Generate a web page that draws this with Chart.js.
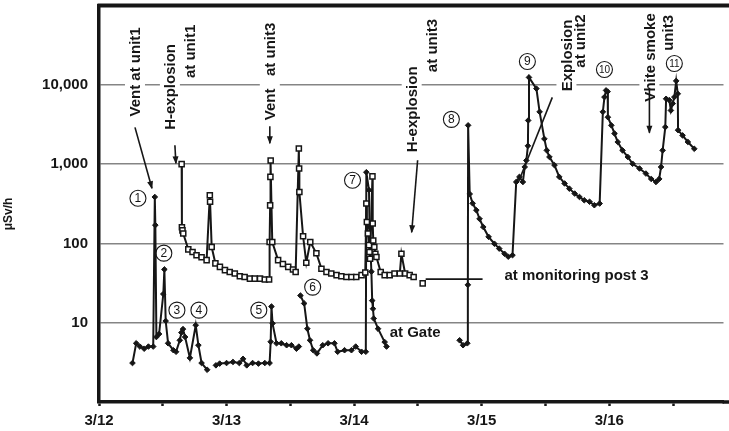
<!DOCTYPE html>
<html>
<head>
<meta charset="utf-8">
<script src="https://cdn.jsdelivr.net/npm/chart.js@4.4.1/dist/chart.umd.min.js"></script>
<style>
  html, body { margin: 0; padding: 0; background: #fff; }
  canvas { display: block; }
</style>
</head>
<body>
<canvas id="c" width="729" height="431"></canvas>
<script>
// Dose rate at the site, hours counted from 3/12 00:00, values in µSv/h.
const dayLabels = ['3/12', '3/13', '3/14', '3/15', '3/16'];
const yTickValues = [10, 100, 1000, 10000];

// Monitoring post 3 (open squares); null marks a break in the record.
const mp3Hours = [
  15.55, 15.6, 15.7, 15.85, 16.8, 17.6, 18.35, 19.3, 20.25, 20.85, 20.9, 21.2,
  21.9, 22.75, 23.7, 24.6, 25.55, 26.5, 27.4, 28.4, 29.3, 30.3, 31.2, 32.0,
  32.1, 32.2, 32.25, 32.3, 32.6, 33.7, 34.6, 35.6, 36.5, 37.0,
  37.6, 37.65, 37.7, 38.4, 39.0, 39.75, 40.9, 41.85, 42.8, 43.7, 44.7, 45.6,
  46.55, 47.5, 48.4, 49.4, 50.1,
  50.3, 50.4, 50.6, 50.8, 50.9, 51.0, 51.45, 51.5, 51.6, 51.8, 52.0, 52.2,
  53.0, 53.75, 54.7, 55.6, 56.6, 56.9, 57.6, 58.45, 59.2,
  60.0, 60.9
];
const mp3Values = [
  1000, 160, 146, 133, 84, 78, 71, 67, 61.5, 405, 335, 90,
  56, 50.6, 46, 43.6, 41.8, 38.6, 37.7, 36, 36, 36, 35, 35,
  104, 302, 690, 1110, 104, 61.5, 55, 50.6, 46.8, 43.6,
  1570, 880, 445, 123, 57, 104, 75, 48, 43.6, 41.8, 39.8, 38.6,
  37.7, 37.7, 37.7, 39.8, 43,
  318, 186, 133, 95, 78, 64, 700, 178, 109, 90, 74, 67.5,
  43.6, 39.8, 39.8, 41.8, 41.8, 74, 41.8, 39.8, 37.7,
  null, 31.3
];

// Main gate (filled diamonds); null marks a break in the record.
const gateHours = [
  6.3, 7.0, 7.7, 8.5, 9.3, 10.2, 10.5, 10.6, 10.8, 11.3, 12.1, 12.3,
  12.55, 13.0, 14.0, 14.5, 15.2, 15.5, 15.8, 16.2, 17.1, 18.2, 18.7, 19.3,
  20.35, 21.2,
  22.0, 22.7, 24.0, 25.2, 26.4, 27.1, 27.8, 28.9, 30.0, 31.2, 32.1,
  32.3, 32.45, 32.65, 33.4, 34.3, 35.3, 36.2, 37.15, 37.6, 37.75,
  37.9, 38.6, 39.2, 39.7, 40.3, 41.0, 42.1, 43.1, 44.3, 44.9, 46.2, 47.5,
  48.3, 49.4, 50.2,
  50.3, 50.8, 50.9, 51.25, 51.4, 51.55, 51.7, 52.5, 53.75, 54.1, 60.0,
  67.85, 68.5, 69.3, 69.4, 69.45, 69.75, 70.3, 71.0, 71.6, 72.3, 73.3, 74.4,
  75.3, 76.3, 77.0, 77.8,
  78.5, 79.1, 79.75, 80.1, 80.4, 80.7, 80.75, 80.9,
  82.3, 82.9, 83.8, 84.25, 84.75, 85.7, 86.6, 87.6, 88.5, 89.5, 90.4, 91.3,
  92.3, 93.2, 94.2,
  94.8, 95.1, 95.4, 95.7,
  95.75, 96.4, 97.0, 97.6, 98.5, 99.5, 100.4, 101.7, 102.9, 103.9, 104.8, 105.4,
  105.75, 106.05, 106.55, 106.7, 107.3, 107.6, 107.95, 108.25, 108.6, 108.9,
  108.95, 109.8, 110.8, 112.0
];
const gateValues = [
  3.1, 5.5, 5.0, 4.7, 5.0, 5.0, 385, 170, 6.6, 7.2, 23, 47,
  10.5, 5.5, 4.5, 4.3, 6.0, 7.5, 8.3, 6.6, 3.6, 9.3, 5.2, 3.1,
  2.55, null,
  2.9, 3.05, 3.1, 3.2, 3.1, 3.5, 2.9, 3.1, 3.05, 3.1, 3.1,
  5.75, 16, 9.8, 5.5, 5.5, 5.2, 5.2, 4.7, 5.0, null,
  22, 17.5, 8.4, 6.0, 4.5, 4.1, 5.2, 5.5, 5.5, 4.3, 4.5, 4.5,
  5.0, 4.3, 4.3,
  790, 470, 161, 44, 19, 15, 11.3, 8.4, 5.7, 5.0, null,
  6.0, 5.2, 5.5, 30, 3080, 420, 320, 262, 204, 161, 121, 99,
  86, 74, 68, 71,
  595, 690, 595, 920, 1110, 1700, 3550, 12400,
  8950, 4560, 2080, 1490, 1230, 970, 690, 570, 490, 425, 385, 350,
  335, 303, 318,
  4560, 7000, 8500, 8200,
  3900, 3080, 2430, 1900, 1490, 1230, 1010, 880, 760, 650, 595, 650,
  920, 1490, 2930, 6660, 6400, 4750, 5800, 7000, 11200, 7700,
  2680, 2300, 1900, 1560
];

// Event notes, placed in data units [hours, µSv/h].
const eventTexts = [
  { text: 'Vent at unit1', at: [6.77, 14530] },
  { text: 'H-explosion', at: [13.34, 9410] },
  { text: 'at unit1', at: [17.1, 26360] },
  { text: 'Vent   at unit3', at: [32.14, 14750] },
  { text: 'H-explosion', at: [58.83, 4900] },
  { text: 'at unit3', at: [62.58, 31340] },
  { text: 'Explosion', at: [87.95, 23450] },
  { text: 'at unit2', at: [90.4, 35700] },
  { text: 'Vhite smoke', at: [103.56, 22130] },
  { text: 'unit3', at: [107.1, 45070] }
];
const eventArrows = [
  { from: [6.77, 2906], to: [9.96, 496], head: true },
  { from: [14.28, 1726], to: [14.47, 1023], head: true },
  { from: [32.14, 2993], to: [32.14, 1828], head: true },
  { from: [59.95, 1117], to: [58.83, 138], head: true },
  { from: [85.29, 6935], to: [78.9, 590], head: false },
  { from: [103.56, 9170], to: [103.56, 2484], head: true },
  { from: [61.46, 35.4], to: [72.17, 35.4], head: false }
];
const circledMarks = [
  ['1', 7.33, 371], ['2', 12.2, 75.3], ['3', 14.66, 14.4], ['4', 18.8, 14.4],
  ['5', 30.07, 14.4], ['6', 40.2, 28.1], ['7', 47.7, 625], ['8', 66.3, 3665],
  ['9', 80.6, 19700], ['10', 95.1, 15600], ['11', 108.25, 18600]
];
const seriesTexts = [
  { text: 'at Gate', at: [54.69, 7.4] },
  { text: 'at monitoring post 3', at: [76.3, 38.6] }
];

const INK = '#161616';
const FONT = '"Liberation Sans", Arial, Helvetica, sans-serif';

const zip = (xs, ys) => xs.map((x, i) => ({ x: x, y: ys[i] }));

// keep the plot box exactly where the frame sits
const noEdgePadding = (s) => {
  s.paddingLeft = 0; s.paddingRight = 0; s.paddingTop = 0; s.paddingBottom = 0;
};

const notesPlugin = {
  id: 'notes',
  beforeDatasetsDraw(chart) {
    const { ctx, scales } = chart;
    const P = (a) => [scales.x.getPixelForValue(a[0]), scales.y.getPixelForValue(a[1])];
    ctx.save();

    // rotated event texts: white patches first, then the words
    ctx.font = 'bold 15px ' + FONT;
    ctx.textAlign = 'center';
    ctx.textBaseline = 'middle';
    const rotated = (fn) => eventTexts.forEach(n => {
      const [px, py] = P(n.at);
      const w = ctx.measureText(n.text).width;
      ctx.save();
      ctx.translate(px, py);
      ctx.rotate(-Math.PI / 2);
      fn(n, w);
      ctx.restore();
    });
    rotated((n, w) => { ctx.fillStyle = '#fff'; ctx.fillRect(-w / 2 - 3, -10, w + 6, 20); });
    rotated((n) => { ctx.fillStyle = INK; ctx.fillText(n.text, 0, 1); });

    // arrows
    ctx.strokeStyle = INK;
    ctx.fillStyle = INK;
    ctx.lineWidth = 1.6;
    eventArrows.forEach(a => {
      const [x1, y1] = P(a.from);
      const [x2, y2] = P(a.to);
      ctx.beginPath();
      ctx.moveTo(x1, y1);
      ctx.lineTo(x2, y2);
      ctx.stroke();
      if (a.head) {
        const ang = Math.atan2(y2 - y1, x2 - x1);
        const L = 7, W = 3;
        ctx.beginPath();
        ctx.moveTo(x2 + Math.cos(ang) * 1, y2 + Math.sin(ang) * 1);
        ctx.lineTo(x2 - Math.cos(ang) * L - Math.sin(ang) * W, y2 - Math.sin(ang) * L + Math.cos(ang) * W);
        ctx.lineTo(x2 - Math.cos(ang) * L + Math.sin(ang) * W, y2 - Math.sin(ang) * L - Math.cos(ang) * W);
        ctx.closePath();
        ctx.fill();
      }
    });

    // circled event numbers
    circledMarks.forEach(c => {
      const [px, py] = P([c[1], c[2]]);
      ctx.beginPath();
      ctx.arc(px, py, 8, 0, Math.PI * 2);
      ctx.fillStyle = '#fff';
      ctx.fill();
      ctx.lineWidth = 1.1;
      ctx.strokeStyle = INK;
      ctx.stroke();
      ctx.fillStyle = INK;
      ctx.font = (c[0].length > 1 ? '10px ' : '12px ') + FONT;
      ctx.textAlign = 'center';
      ctx.textBaseline = 'middle';
      ctx.fillText(c[0], px, py + 0.5);
    });

    // series captions
    ctx.font = 'bold 15px ' + FONT;
    ctx.textAlign = 'left';
    ctx.textBaseline = 'middle';
    ctx.fillStyle = INK;
    seriesTexts.forEach(s => {
      const [px, py] = P(s.at);
      ctx.fillText(s.text, px, py);
    });
    ctx.restore();
  },
  afterDraw(chart) {
    const { ctx, chartArea } = chart;
    ctx.save();
    ctx.strokeStyle = INK;
    // heavy frame line along the top, running to the canvas edge
    ctx.lineWidth = 4;
    ctx.beginPath();
    ctx.moveTo(chartArea.left - 1.5, chartArea.top);
    ctx.lineTo(chart.width, chartArea.top);
    ctx.stroke();
    // carry the time axis line on to the canvas edge
    ctx.lineWidth = 3.5;
    ctx.beginPath();
    ctx.moveTo(chartArea.right - 1, chartArea.bottom);
    ctx.lineTo(chart.width, chartArea.bottom);
    ctx.stroke();
    // unit label
    ctx.translate(9, 214);
    ctx.rotate(-Math.PI / 2);
    ctx.font = 'bold 12px ' + FONT;
    ctx.textAlign = 'center';
    ctx.textBaseline = 'middle';
    ctx.fillStyle = INK;
    ctx.fillText('\u03bcSv/h', 0, 0);
    ctx.restore();
  }
};

new Chart(document.getElementById('c'), {
  type: 'scatter',
  data: {
    datasets: [
      {
        label: 'at monitoring post 3',
        data: zip(mp3Hours, mp3Values),
        showLine: true,
        spanGaps: false,
        borderColor: INK,
        borderWidth: 2,
        pointStyle: 'rect',
        pointRadius: 3.6,
        pointBackgroundColor: '#fff',
        pointBorderColor: INK,
        pointBorderWidth: 1.5
      },
      {
        label: 'at Gate',
        data: zip(gateHours, gateValues),
        showLine: true,
        spanGaps: false,
        borderColor: INK,
        borderWidth: 2,
        pointStyle: 'rectRot',
        pointRadius: 2.8,
        pointBackgroundColor: INK,
        pointBorderColor: INK,
        pointBorderWidth: 1
      }
    ]
  },
  options: {
    responsive: false,
    animation: false,
    devicePixelRatio: 1,
    layout: { padding: { top: 4, right: 0, bottom: 0, left: 0 } },
    plugins: { legend: { display: false }, tooltip: { enabled: false } },
    scales: {
      x: {
        type: 'linear',
        min: 0,
        max: 117.5,
        afterFit: (s) => { s.height = 29; noEdgePadding(s); },
        afterBuildTicks: (s) => {
          const t = [];
          for (let h = 0; h <= 108; h += 12) t.push({ value: h });
          s.ticks = t;
        },
        grid: {
          display: true,
          drawOnChartArea: false,
          drawTicks: true,
          tickLength: 4,
          tickColor: INK,
          tickWidth: 2.5
        },
        border: { display: true, color: INK, width: 3.5 },
        ticks: {
          autoSkip: false,
          maxRotation: 0,
          padding: 6,
          color: INK,
          font: { family: FONT, size: 15, weight: 'bold' },
          callback: (v) => (v % 24 === 0 ? dayLabels[v / 24] : '')
        }
      },
      y: {
        type: 'logarithmic',
        min: 1,
        max: 100000,
        afterFit: (s) => { s.width = 99; noEdgePadding(s); },
        afterBuildTicks: (s) => { s.ticks = yTickValues.map(v => ({ value: v })); },
        grid: {
          display: true,
          drawTicks: false,
          color: '#858585',
          lineWidth: 1.5
        },
        border: { display: true, color: INK, width: 3.5 },
        ticks: {
          padding: 11,
          color: INK,
          font: { family: FONT, size: 15, weight: 'bold' },
          callback: (v) => Number(v).toLocaleString('en-US')
        }
      }
    }
  },
  plugins: [notesPlugin]
});
</script>
</body>
</html>
